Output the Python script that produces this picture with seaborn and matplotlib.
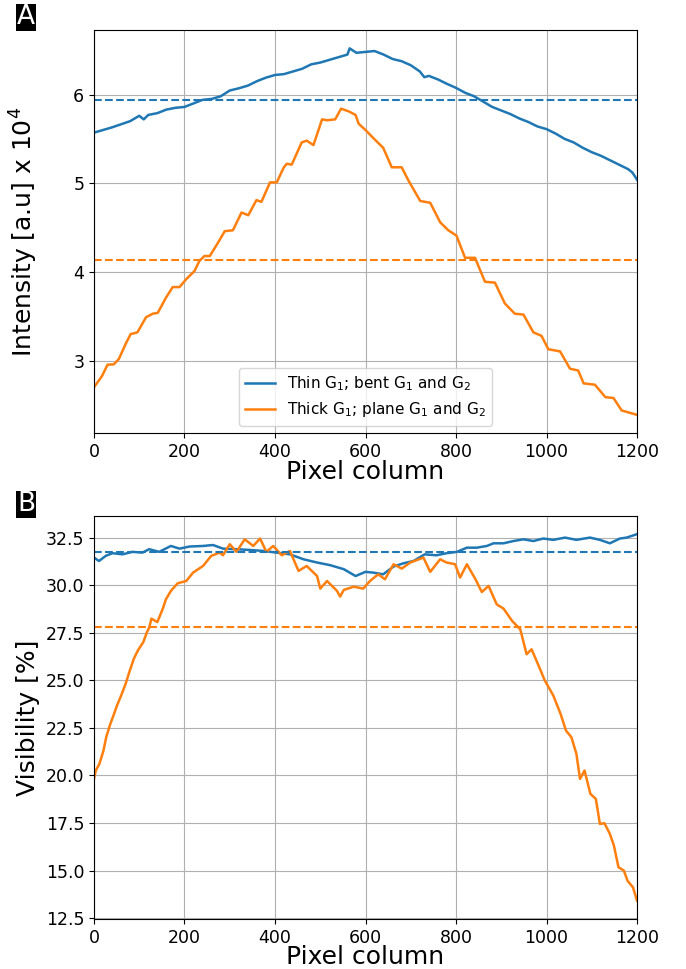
import numpy as np
import pandas as pd
import matplotlib
matplotlib.use("Agg")
import matplotlib.pyplot as plt
import seaborn as sns

# ============================================================================
# DATA
# ============================================================================

# Panel A: intensity [a.u] x 10^4
thin_int_x = [0, 20, 40, 60, 80, 100, 110, 120, 140, 160, 180, 200, 220, 240, 260,
              280, 300, 320, 340, 360, 380, 400, 420, 440, 460, 480, 500, 520, 540,
              560, 565, 580, 600, 620, 640, 660, 680, 700, 720, 730, 740, 760, 780,
              800, 820, 840, 860, 880, 900, 920, 940, 960, 980, 1000, 1020, 1040,
              1060, 1080, 1100, 1120, 1140, 1160, 1180, 1190, 1200]
thin_int_y = [5.57, 5.60, 5.63, 5.665, 5.70, 5.76, 5.72, 5.77, 5.79, 5.83, 5.85, 5.86,
              5.90, 5.94, 5.95, 5.98, 6.045, 6.07, 6.10, 6.15, 6.19, 6.22, 6.23, 6.26,
              6.29, 6.34, 6.36, 6.39, 6.42, 6.45, 6.52, 6.47, 6.48, 6.49, 6.45, 6.40,
              6.375, 6.33, 6.26, 6.195, 6.21, 6.17, 6.12, 6.075, 6.02, 5.98, 5.92,
              5.86, 5.82, 5.78, 5.73, 5.69, 5.64, 5.61, 5.56, 5.50, 5.46, 5.40, 5.35,
              5.31, 5.26, 5.21, 5.16, 5.12, 5.04]

thick_int_x = [0, 18, 30, 44, 55, 70, 81, 96, 115, 130, 141, 159, 174, 189, 204, 222,
               233, 244, 256, 274, 289, 307, 326, 341, 359, 370, 389, 404, 419, 426,
               437, 459, 470, 485, 504, 515, 533, 546, 563, 578, 585, 600, 617, 639,
               658, 680, 695, 721, 743, 765, 783, 801, 820, 842, 864, 886, 908, 930,
               949, 971, 989, 1004, 1030, 1052, 1070, 1082, 1107, 1130, 1148, 1166,
               1200]
thick_int_y = [2.70, 2.83, 2.955, 2.96, 3.02, 3.19, 3.30, 3.32, 3.49, 3.53, 3.54, 3.71,
               3.83, 3.83, 3.92, 4.01, 4.125, 4.18, 4.18, 4.33, 4.46, 4.47, 4.67, 4.64,
               4.81, 4.79, 5.01, 5.01, 5.175, 5.22, 5.21, 5.46, 5.48, 5.43, 5.72, 5.71,
               5.72, 5.84, 5.81, 5.77, 5.67, 5.60, 5.51, 5.40, 5.18, 5.18, 5.03, 4.80,
               4.78, 4.56, 4.47, 4.41, 4.16, 4.16, 3.89, 3.88, 3.645, 3.53, 3.52, 3.32,
               3.28, 3.13, 3.105, 2.91, 2.89, 2.745, 2.73, 2.59, 2.58, 2.44, 2.39]

thin_int_mean = 5.94
thick_int_mean = 4.133

# Panel B: visibility [%]
thin_vis_x = [0, 11, 26, 41, 63, 85, 107, 122, 144, 170, 189, 211, 241, 263, 285, 315,
              344, 374, 404, 433, 463, 493, 522, 552, 578, 600, 617, 639, 662, 684, 706,
              731, 757, 779, 802, 824, 846, 868, 883, 905, 927, 949, 971, 993, 1015,
              1041, 1066, 1096, 1118, 1140, 1162, 1177, 1200]
thin_vis_y = [31.45, 31.27, 31.54, 31.68, 31.62, 31.75, 31.71, 31.89, 31.75, 32.06,
              31.92, 32.03, 32.06, 32.11, 31.92, 31.89, 31.85, 31.80, 31.71, 31.62,
              31.36, 31.19, 31.05, 30.84, 30.48, 30.70, 30.66, 30.57, 30.98, 31.15,
              31.27, 31.62, 31.57, 31.68, 31.75, 31.97, 31.97, 32.06, 32.20, 32.20,
              32.32, 32.41, 32.32, 32.45, 32.38, 32.50, 32.38, 32.50, 32.38, 32.20,
              32.45, 32.50, 32.68]

thick_vis_x = [0, 4, 12, 21, 27, 35, 43, 51, 60, 70, 78, 88, 97, 109, 117, 122, 127,
               140, 152, 159, 170, 185, 204, 219, 241, 259, 278, 285, 300, 315, 333,
               352, 367, 381, 396, 415, 433, 452, 470, 493, 500, 515, 537, 544, 552,
               574, 595, 610, 628, 643, 662, 680, 699, 728, 743, 765, 779, 798, 809,
               824, 843, 857, 872, 890, 905, 924, 942, 956, 967, 984, 996, 1015, 1031,
               1043, 1055, 1066, 1074, 1084, 1097, 1109, 1118, 1128, 1140, 1149, 1159,
               1171, 1179, 1191, 1200]
thick_vis_y = [19.82, 20.26, 20.61, 21.31, 22.01, 22.63, 23.15, 23.68, 24.20, 24.82,
               25.43, 26.13, 26.57, 27.01, 27.53, 27.77, 28.24, 28.06, 28.76, 29.26,
               29.70, 30.10, 30.22, 30.66, 31.01, 31.54, 31.71, 31.57, 32.15, 31.75,
               32.41, 32.06, 32.45, 31.75, 32.06, 31.57, 31.80, 30.75, 31.01, 30.48,
               29.82, 30.22, 29.70, 29.40, 29.75, 29.92, 29.82, 30.22, 30.57, 30.31,
               31.10, 30.87, 31.19, 31.45, 30.70, 31.36, 31.19, 31.10, 30.40, 31.10,
               30.31, 29.64, 29.96, 28.99, 28.77, 28.12, 27.68, 26.37, 26.63, 25.69,
               25.00, 24.20, 23.24, 22.36, 22.01, 21.14, 19.82, 20.26, 19.03, 18.77,
               17.45, 17.49, 16.93, 16.31, 15.18, 15.00, 14.47, 14.12, 13.42]

thin_vis_mean = 31.75
thick_vis_mean = 27.79

labels = ["Thin G$_1$; bent G$_1$ and G$_2$", "Thick G$_1$; plane G$_1$ and G$_2$"]
colors = ["tab:blue", "tab:orange"]

# ============================================================================
# PLOT
# ============================================================================

fig, (ax1, ax2) = plt.subplots(2, 1, figsize=(6.86, 9.69), dpi=100)
plt.subplots_adjust(left=0.137, right=0.9286, top=0.969, bottom=0.0516, hspace=0.205)

LW = 1.8
sns.lineplot(x=thin_int_x, y=thin_int_y, color=colors[0], lw=LW, label=labels[0], ax=ax1)
sns.lineplot(x=thick_int_x, y=thick_int_y, color=colors[1], lw=LW, label=labels[1], ax=ax1)
ax1.axhline(thin_int_mean, color=colors[0], ls="--", lw=1.5)
ax1.axhline(thick_int_mean, color=colors[1], ls="--", lw=1.5)

sns.lineplot(x=thin_vis_x, y=thin_vis_y, color=colors[0], lw=LW, ax=ax2)
sns.lineplot(x=thick_vis_x, y=thick_vis_y, color=colors[1], lw=LW, ax=ax2)
ax2.axhline(thin_vis_mean, color=colors[0], ls="--", lw=1.5)
ax2.axhline(thick_vis_mean, color=colors[1], ls="--", lw=1.5)

xticks = [0, 200, 400, 600, 800, 1000, 1200]
for ax in (ax1, ax2):
    ax.set_xlim(0, 1200)
    ax.set_xticks(xticks)
    ax.grid(True, color="#b0b0b0", lw=0.8)
    ax.set_xlabel("Pixel column", fontsize=18, labelpad=-1)
    ax.tick_params(axis="both", labelsize=12.5)

ax1.set_yticks([3, 4, 5, 6])
ax1.set_ylabel("Intensity [a.u] x 10$^4$", fontsize=18)
ax2.set_yticks([12.5, 15.0, 17.5, 20.0, 22.5, 25.0, 27.5, 30.0, 32.5])
ax2.set_ylabel("Visibility [%]", fontsize=18)
fig.align_ylabels([ax1, ax2])

ax1.legend(loc="lower center", fontsize=11)

for y, letter in [(0.982, "A"), (0.4795, "B")]:
    fig.text(0.038, y, letter, color="white", fontsize=19, ha="center", va="center",
             bbox=dict(facecolor="black", edgecolor="none", pad=0.5))

plt.savefig("out.png", dpi=100)
plt.close()
